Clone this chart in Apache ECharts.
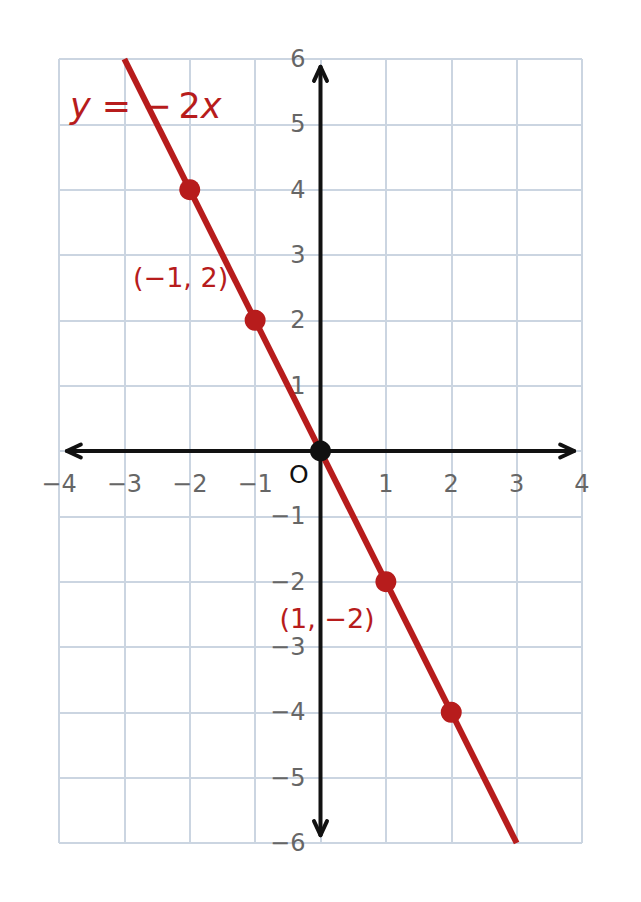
<!DOCTYPE html>
<html><head><meta charset="utf-8">
<script src="https://cdn.jsdelivr.net/npm/echarts@6/dist/echarts.min.js"></script>
<style>html,body{margin:0;padding:0;background:#fff}#c{width:641px;height:902px}</style>
</head><body><div id="c"></div>
<script>
// ---- data ----
const xTicks = [-4, -3, -2, -1, 0, 1, 2, 3, 4];
const yTicks = [-6, -5, -4, -3, -2, -1, 0, 1, 2, 3, 4, 5, 6];
const xTickLabels = [-4, -3, -2, -1, 1, 2, 3, 4];
const yTickLabels = [-6, -5, -4, -3, -2, -1, 1, 2, 3, 4, 5, 6];
const lineX = [-3, 3];
const lineY = [6, -6];
const pointX = [-2, -1, 1, 2];
const pointY = [4, 2, -2, -4];
const originX = [0];
const originY = [0];
const pointLabels = ['(\u22121, 2)', '(1, \u22122)'];
const pointLabelX = [-2.14, 0.1];
const pointLabelY = [2.66, -2.56];
const originLabels = ['O'];
const originLabelX = [-0.33];
const originLabelY = [-0.36];
const axisXEnds = [-3.88, 3.88];
const axisYEnds = [-5.88, 5.88];

const RED = '#b71c1c';
const FONT = 'DejaVu Sans';
const fmt = v => v === 0 ? '' : (v < 0 ? '\u2212' + Math.abs(v) : String(v));

const chart = echarts.init(document.getElementById('c'), null, { renderer: 'svg' });

function renderAxes(params, api) {
  const a = api.coord([api.value(0), api.value(1)]);
  const b = api.coord([api.value(2), api.value(3)]);
  const dx = b[0] - a[0], dy = b[1] - a[1];
  const len = Math.hypot(dx, dy);
  const ux = dx / len, uy = dy / len;
  const nx = -uy, ny = ux;
  const L = 14, W = 6.5;
  const st = { stroke: '#111', lineWidth: 4, lineCap: 'round', lineJoin: 'round', fill: 'none' };
  const chev = (tip, dir) => ({
    type: 'polyline',
    shape: { points: [
      [tip[0] + dir * ux * L + nx * W, tip[1] + dir * uy * L + ny * W],
      tip,
      [tip[0] + dir * ux * L - nx * W, tip[1] + dir * uy * L - ny * W]
    ] },
    style: st
  });
  return {
    type: 'group',
    children: [
      { type: 'line', shape: { x1: a[0], y1: a[1], x2: b[0], y2: b[1] }, style: st },
      chev(a, 1),
      chev(b, -1)
    ]
  };
}

const tickLabelStyle = { color: '#666', fontSize: 24, fontFamily: FONT, opacity: 1 };
const hiddenItem = { color: 'rgba(0,0,0,0)', opacity: 1 };

const option = {
  animation: false,
  backgroundColor: '#fff',
  textStyle: { fontFamily: FONT },
  title: {
    text: '{i|y} = \u2212\u20092{i|x}',
    left: 65,
    top: 83,
    textStyle: {
      fontFamily: FONT, fontSize: 35, color: RED, fontWeight: 'normal',
      rich: { i: { fontFamily: FONT, fontSize: 35, color: RED, fontStyle: 'italic' } }
    }
  },
  grid: { left: 59, right: 59, top: 59, bottom: 59, outerBoundsMode: 'none', containLabel: false },
  xAxis: {
    type: 'value', min: xTicks[0], max: xTicks[xTicks.length - 1], interval: 1,
    axisLine: { show: false },
    axisTick: { show: false },
    axisLabel: { show: false },
    splitLine: { show: true, lineStyle: { color: '#cbd5e1', width: 2 } }
  },
  yAxis: {
    type: 'value', min: yTicks[0], max: yTicks[yTicks.length - 1], interval: 1,
    axisLine: { show: false },
    axisTick: { show: false },
    axisLabel: { show: false },
    splitLine: { show: true, lineStyle: { color: '#cbd5e1', width: 2 } }
  },
  series: [
    {
      type: 'custom',
      renderItem: renderAxes,
      encode: { x: [0, 2], y: [1, 3] },
      data: [[axisXEnds[0], 0, axisXEnds[1], 0], [0, axisYEnds[0], 0, axisYEnds[1]]],
      z: 3, silent: true
    },
    {
      // x tick labels along the x axis (y = 0)
      type: 'scatter',
      data: xTickLabels.map(t => ({ value: [t, 0], name: fmt(t) })),
      symbolSize: 1,
      itemStyle: hiddenItem,
      label: Object.assign({ show: true, position: 'inside', offset: [0, 33], formatter: '{b}' }, tickLabelStyle),
      z: 2, silent: true
    },
    {
      // y tick labels along the y axis (x = 0)
      type: 'scatter',
      data: yTickLabels.map(t => ({ value: [0, t], name: fmt(t) })),
      symbolSize: 1,
      itemStyle: hiddenItem,
      label: Object.assign({ show: true, position: 'left', distance: 14.5, formatter: '{b}' }, tickLabelStyle),
      z: 2, silent: true
    },
    {
      type: 'line',
      data: lineX.map((x, i) => [x, lineY[i]]),
      showSymbol: false, symbol: 'none',
      lineStyle: { color: RED, width: 6, cap: 'butt' },
      z: 4, silent: true
    },
    {
      type: 'scatter',
      data: pointX.map((x, i) => [x, pointY[i]]),
      symbolSize: 21,
      itemStyle: { color: RED, opacity: 1 },
      z: 5, silent: true
    },
    {
      type: 'scatter',
      data: originX.map((x, i) => [x, originY[i]]),
      symbolSize: 21,
      itemStyle: { color: '#111', opacity: 1 },
      z: 6, silent: true
    },
    {
      type: 'scatter',
      data: pointLabels.map((t, i) => ({ value: [pointLabelX[i], pointLabelY[i]], name: t })),
      symbolSize: 1,
      itemStyle: hiddenItem,
      label: { show: true, position: 'inside', formatter: '{b}', color: RED, opacity: 1, fontSize: 27, fontFamily: FONT },
      z: 7, silent: true
    },
    {
      type: 'scatter',
      data: originLabels.map((t, i) => ({ value: [originLabelX[i], originLabelY[i]], name: t })),
      symbolSize: 1,
      itemStyle: hiddenItem,
      label: { show: true, position: 'inside', formatter: '{b}', color: '#111', opacity: 1, fontSize: 25, fontFamily: FONT },
      z: 7, silent: true
    }
  ]
};
chart.setOption(option);
</script>
</body></html>
